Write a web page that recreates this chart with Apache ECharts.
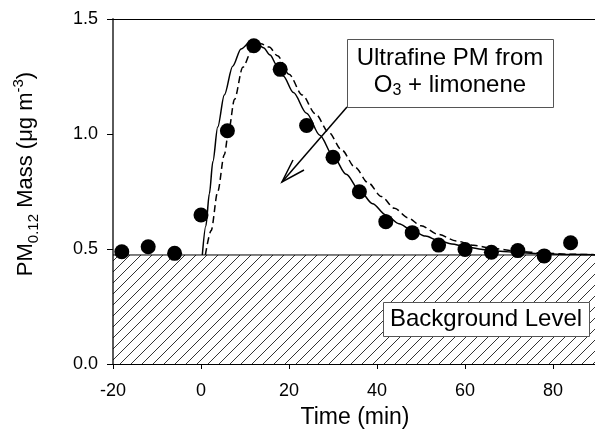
<!DOCTYPE html>
<html>
<head>
<meta charset="utf-8">
<script src="https://cdn.jsdelivr.net/npm/echarts@6/dist/echarts.min.js"></script>
<style>
  html, body { margin: 0; padding: 0; background: #fff; }
  #main { width: 595px; height: 429px; }
</style>
</head>
<body>
<div id="main"></div>
<script>
// measured ultrafine PM mass (time in min, ug m-3)
const obsTime = [-18, -12, -6, 0, 6, 12, 18, 24, 30, 36, 42, 48, 54, 60, 66, 72, 78, 84];
const obsMass = [0.488, 0.51, 0.481, 0.648, 1.014, 1.384, 1.281, 1.037, 0.899, 0.749, 0.619, 0.571, 0.517, 0.498, 0.486, 0.493, 0.47, 0.527];

// model curve, solid line
const fitTime = [0.3, 1.1, 1.9, 2.7, 3.8, 5.3, 7.2, 9.1, 11.2, 12.7, 14.2, 15.7, 17.2, 18.7, 21, 24, 27, 30, 33, 36, 39, 42, 45, 48, 51, 54, 57, 60, 64, 68, 72, 78, 84, 90];
const fitMass = [0.474, 0.6, 0.74, 0.88, 1.03, 1.17, 1.295, 1.37, 1.4, 1.395, 1.375, 1.343, 1.3, 1.252, 1.18, 1.09, 0.995, 0.905, 0.825, 0.755, 0.697, 0.648, 0.61, 0.58, 0.556, 0.537, 0.522, 0.51, 0.498, 0.49, 0.485, 0.479, 0.476, 0.475];

// model curve, dashed line
const fit2Time = [1.0, 2.3, 3.8, 5.3, 6.3, 7.6, 9.5, 11.7, 13.6, 15.5, 17.4, 20, 23, 26, 29, 32, 35, 38, 41, 44, 47, 50, 54, 58, 62, 66, 72, 78, 84, 90];
const fit2Mass = [0.474, 0.58, 0.75, 0.91, 1.015, 1.15, 1.29, 1.37, 1.392, 1.378, 1.34, 1.26, 1.17, 1.088, 1.008, 0.93, 0.855, 0.788, 0.728, 0.677, 0.636, 0.601, 0.563, 0.535, 0.516, 0.503, 0.49, 0.482, 0.477, 0.475];

const bgLevel = 0.474;
const bgTime = [-20, 90];

const xMin = -20, xMax = 90, xStep = 20;
const yMin = 0, yMax = 1.5, yStep = 0.5;

const FONT = '"Liberation Sans", Arial, sans-serif';

function pairs(xs, ys) {
  return xs.map((x, i) => [x, ys[i]]);
}

// hatch pattern for the background area
function hatch() {
  const s = 11;
  const c = document.createElement('canvas');
  c.width = s;
  c.height = s;
  const ctx = c.getContext('2d');
  ctx.strokeStyle = '#000';
  ctx.lineWidth = 0.8;
  ctx.beginPath();
  ctx.moveTo(-1, s + 1);
  ctx.lineTo(s + 1, -1);
  ctx.moveTo(-1, 1);
  ctx.lineTo(1, -1);
  ctx.moveTo(s - 1, s + 1);
  ctx.lineTo(s + 1, s - 1);
  ctx.stroke();
  return c;
}

const chart = echarts.init(document.getElementById('main'), null, { renderer: 'canvas' });

const option = {
  animation: false,
  backgroundColor: '#fff',
  textStyle: { fontFamily: FONT },
  grid: { left: 113, right: -2, top: 19, bottom: 65, outerBoundsMode: 'none' },
  xAxis: [{
    type: 'value',
    min: xMin,
    max: xMax,
    interval: xStep,
    name: 'Time (min)',
    nameLocation: 'middle',
    nameGap: 42,
    nameTextStyle: { fontSize: 23, color: '#000', fontFamily: FONT },
    splitLine: { show: false },
    axisLine: { onZero: false, lineStyle: { color: '#000', width: 1 } },
    axisTick: { length: 5, lineStyle: { color: '#000' } },
    axisLabel: { fontSize: 18, color: '#000', margin: 18, showMaxLabel: false, fontFamily: FONT }
  }, {
    type: 'value',
    position: 'top',
    min: xMin,
    max: xMax,
    interval: xStep,
    splitLine: { show: false },
    axisLine: { show: true, onZero: false, lineStyle: { color: '#000', width: 1 } },
    axisTick: { show: false },
    axisLabel: { show: false }
  }],
  yAxis: {
    type: 'value',
    min: yMin,
    max: yMax,
    interval: yStep,
    splitLine: { show: false },
    axisLine: { onZero: false, lineStyle: { color: '#5a5a5a', width: 2 } },
    axisTick: { length: 6, lineStyle: { color: '#000' } },
    axisLabel: {
      fontSize: 18, color: '#000', margin: 15, fontFamily: FONT,
      formatter: v => v.toFixed(1)
    }
  },
  series: [{
    // background level, hatched
    type: 'line',
    data: pairs(bgTime, [bgLevel, bgLevel]),
    symbol: 'none',
    lineStyle: { color: '#000', width: 1 },
    areaStyle: { color: { image: hatch(), repeat: 'repeat' }, opacity: 1 },
    z: 1
  }, {
    type: 'line',
    data: pairs(fitTime, fitMass),
    symbol: 'none',
    smooth: 0.3,
    smoothMonotone: 'x',
    lineStyle: { color: '#000', width: 1.5 },
    z: 3
  }, {
    type: 'line',
    data: pairs(fit2Time, fit2Mass),
    symbol: 'none',
    smooth: 0.3,
    smoothMonotone: 'x',
    lineStyle: { color: '#000', width: 1.5, type: [7, 4] },
    z: 3
  }, {
    type: 'scatter',
    data: pairs(obsTime, obsMass),
    symbol: 'circle',
    symbolSize: 15,
    itemStyle: { color: '#000', opacity: 1 },
    z: 4
  }],
  graphic: [{
    // y axis title
    type: 'text',
    x: 26,
    y: 174,
    rotation: Math.PI / 2,
    style: {
      text: '{m|PM}{sub|0.12}{m| Mass (\u03bcg m}{sup|-3}{m|)}',
      align: 'center',
      verticalAlign: 'middle',
      fill: '#000',
      rich: {
        m: { fontSize: 22, lineHeight: 30, fontFamily: FONT, fill: '#000' },
        sub: { fontSize: 15, lineHeight: 10, verticalAlign: 'bottom', fontFamily: FONT, fill: '#000' },
        sup: { fontSize: 15, lineHeight: 14, verticalAlign: 'top', fontFamily: FONT, fill: '#000' }
      }
    },
    z: 10
  }, {
    type: 'rect',
    shape: { x: 347.5, y: 39.5, width: 206, height: 68 },
    style: { fill: '#fff', stroke: '#555', lineWidth: 1 },
    z: 10
  }, {
    type: 'text',
    x: 450,
    y: 72,
    style: {
      text: '{a|Ultrafine PM from}\n{a|O}{s|3}{a| + limonene}',
      align: 'center',
      verticalAlign: 'middle',
      fill: '#000',
      rich: {
        a: { fontSize: 24, lineHeight: 27, fontFamily: FONT, fill: '#000' },
        s: { fontSize: 16, lineHeight: 10, verticalAlign: 'bottom', fontFamily: FONT, fill: '#000' }
      }
    },
    z: 11
  }, {
    type: 'polyline',
    shape: { points: [[347, 107], [282, 182]] },
    style: { stroke: '#000', lineWidth: 1.5, fill: null },
    z: 10
  }, {
    type: 'polyline',
    shape: { points: [[293, 160], [282, 182], [304, 170]] },
    style: { stroke: '#000', lineWidth: 1.5, fill: null },
    z: 10
  }, {
    type: 'rect',
    shape: { x: 383.5, y: 302.5, width: 206, height: 34 },
    style: { fill: '#fff', stroke: '#555', lineWidth: 1 },
    z: 10
  }, {
    type: 'text',
    x: 486,
    y: 319,
    style: {
      text: 'Background Level',
      align: 'center',
      verticalAlign: 'middle',
      fontSize: 24,
      fontFamily: FONT,
      fill: '#000'
    },
    z: 11
  }]
};

chart.setOption(option);
</script>
</body>
</html>
